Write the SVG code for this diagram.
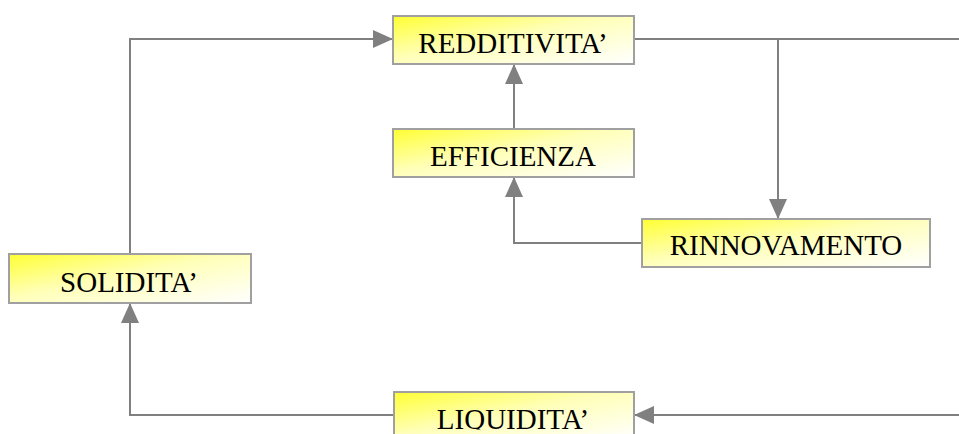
<svg xmlns="http://www.w3.org/2000/svg" width="959" height="434" viewBox="0 0 959 434">
  <style>
    .box { fill: url(#boxFill); stroke: #a0a0a0; stroke-width: 2; }
    .label { font-family: "Liberation Serif", "Times New Roman", serif; font-size: 29px; fill: #000; text-anchor: middle; }
    .wire { fill: none; stroke: #808080; stroke-width: 2; }
  </style>
  <defs>
    <linearGradient id="boxFill" x1="0" y1="0" x2="1" y2="1">
      <stop offset="0" stop-color="#ffff33"/>
      <stop offset="0.45" stop-color="#ffffb8"/>
      <stop offset="1" stop-color="#ffffff"/>
    </linearGradient>
    <marker id="arrow" viewBox="0 0 20 18" refX="20" refY="9" markerWidth="20" markerHeight="18" markerUnits="userSpaceOnUse" orient="auto">
      <path d="M0,0 L20,9 L0,18 Z" fill="#808080"/>
    </marker>
    <!-- the bottom label's text frame ends just above the lower edge -->
    <clipPath id="bottomTextClip">
      <rect x="394" y="392" width="240" height="37.5"/>
    </clipPath>
  </defs>

  <g id="connectors">
    <!-- SOLIDITA' up to REDDITIVITA' -->
    <path class="wire" d="M130,254 V39 H393" marker-end="url(#arrow)"/>
    <!-- REDDITIVITA' out to the right edge -->
    <path class="wire" d="M634,39 H959"/>
    <!-- branch down to RINNOVAMENTO -->
    <path class="wire" d="M778,39 V219" marker-end="url(#arrow)"/>
    <!-- EFFICIENZA up to REDDITIVITA' -->
    <path class="wire" d="M514,129 V64" marker-end="url(#arrow)"/>
    <!-- RINNOVAMENTO back to EFFICIENZA -->
    <path class="wire" d="M642,243 H514 V177" marker-end="url(#arrow)"/>
    <!-- return from the right edge into LIQUIDITA' -->
    <path class="wire" d="M959,415 H634" marker-end="url(#arrow)"/>
    <!-- LIQUIDITA' over to SOLIDITA' -->
    <path class="wire" d="M394,415 H130 V303" marker-end="url(#arrow)"/>
  </g>

  <g id="redditivita">
    <rect class="box" x="393" y="16" width="241" height="48"/>
    <text class="label" x="513" y="53">REDDITIVITA’</text>
  </g>

  <g id="efficienza">
    <rect class="box" x="393" y="129" width="241" height="48"/>
    <text class="label" x="513" y="166">EFFICIENZA</text>
  </g>

  <g id="rinnovamento">
    <rect class="box" x="642" y="219" width="288" height="48"/>
    <text class="label" x="786" y="255">RINNOVAMENTO</text>
  </g>

  <g id="solidita">
    <rect class="box" x="9" y="254" width="242" height="49"/>
    <text class="label" x="129" y="292">SOLIDITA’</text>
  </g>

  <g id="liquidita">
    <rect class="box" x="394" y="392" width="240" height="48"/>
    <text class="label" x="513" y="429" clip-path="url(#bottomTextClip)">LIQUIDITA’</text>
  </g>
</svg>
